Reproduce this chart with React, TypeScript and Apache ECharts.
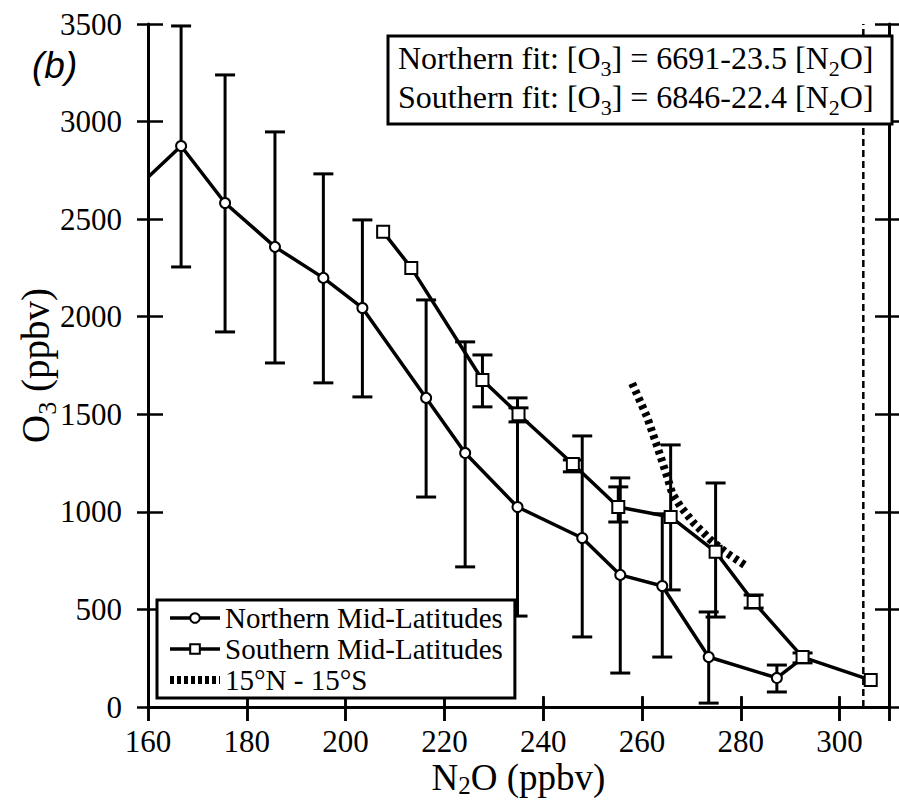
import React, { useEffect, useRef } from 'react';
import * as echarts from 'echarts';

// ---- axis ranges ----
const xMin = 160;
const xMax = 310;
const xStep = 20;
const yMin = 0;
const yMax = 3500;
const yStep = 500;

// ---- Northern Mid-Latitudes (circles) ----
const northN2O = [160, 166.7, 175.6, 185.7, 195.5, 203.4, 216.3, 224.2, 234.8, 247.9, 255.6, 264.1, 273.5, 287.3, 292.5];
const northO3 = [2715, 2875, 2583, 2358, 2199, 2045, 1584, 1302, 1025, 866, 677, 620, 256, 149, 251];
const northErrLow = [null, 2255, 1922, 1763, 1661, 1589, 1076, 718, 466, 359, 174, 256, 20, 77, null];
const northErrHigh = [null, 3490, 3239, 2947, 2732, 2496, 2086, 1871, 1584, 1389, 1174, 990, 487, 215, null];

// ---- Southern Mid-Latitudes (squares) ----
const southN2O = [207.6, 213.3, 227.7, 235.0, 246.0, 255.2, 265.8, 274.9, 282.6, 292.5, 306.3];
const southO3 = [2435, 2250, 1676, 1500, 1245, 1025, 974, 795, 538, 256, 138];
const southErrLow = [null, null, 1538, 1461, 1205, 948, 600, 461, 507, 226, null];
const southErrHigh = [null, null, 1804, 1533, 1266, 1128, 1343, 1148, 574, 277, null];

// ---- 15N - 15S (thick dotted) ----
const tropN2O = [258.0, 261.0, 263.1, 265.1, 266.1, 267.8, 270.5, 273.9, 277.2, 281.3];
const tropO3 = [1659, 1488, 1334, 1180, 1095, 1027, 942, 856, 788, 719];

// ---- vertical dashed reference ----
const refLineN2O = 304.8;

const seriesNames = ['Northern Mid-Latitudes', 'Southern Mid-Latitudes', '15°N - 15°S'];
const fitLines = [
  ['Northern fit: [O', '3', '] = 6691-23.5 [N', '2', 'O]'],
  ['Southern fit: [O', '3', '] = 6846-22.4 [N', '2', 'O]'],
];

const SERIF = 'Liberation Serif';

function errData(xs: number[], lo: (number | null)[], hi: (number | null)[]) {
  const out: number[][] = [];
  xs.forEach((x, i) => {
    if (lo[i] != null && hi[i] != null) out.push([x, lo[i] as number, hi[i] as number]);
  });
  return out;
}

function richLine(parts: string[]) {
  return parts.map((p, i) => (i % 2 === 1 ? `{s|${p}}` : `{m|${p}}`)).join('');
}

export default function App() {
  const ref = useRef<HTMLDivElement>(null);

  useEffect(() => {
    if (!ref.current) return;
    const chart = echarts.init(ref.current, null, { renderer: 'svg' });

    const black = '#000';
    const axisBase = (extra: any) => ({
      type: 'value',
      splitLine: { show: false },
      ...extra,
    });
    const xRange = { min: xMin, max: xMax, interval: xStep };
    const yRange = { min: yMin, max: yMax, interval: yStep };
    const tickStyle = { color: black, width: 2.5 };

    const errRender = (params: any, api: any) => {
      const x = api.value(0);
      const p1 = api.coord([x, api.value(1)]);
      const p2 = api.coord([x, api.value(2)]);
      const hw = 10;
      const style = { stroke: black, lineWidth: 3 };
      return {
        type: 'group',
        children: [
          { type: 'line', shape: { x1: p1[0], y1: p1[1], x2: p2[0], y2: p2[1] }, style },
          { type: 'line', shape: { x1: p1[0] - hw, y1: p1[1], x2: p1[0] + hw, y2: p1[1] }, style },
          { type: 'line', shape: { x1: p2[0] - hw, y1: p2[1], x2: p2[0] + hw, y2: p2[1] }, style },
        ],
      };
    };

    const nameRich = {
      m: { fontSize: 37, lineHeight: 37, fontFamily: SERIF, color: black },
      s: { fontSize: 25, lineHeight: 16, padding: [16, 0, 0, 0], fontFamily: SERIF, color: black },
    };
    const fitRich = {
      m: { fontSize: 32, lineHeight: 36, fontFamily: SERIF, fill: black },
      s: { fontSize: 22, lineHeight: 18, padding: [20, 0, 0, 0], fontFamily: SERIF, fill: black },
    };

    const option: any = {
      animation: false,
      backgroundColor: '#fff',
      textStyle: { fontFamily: SERIF, color: black },
      grid: {
        left: 148,
        right: 10,
        top: 24,
        bottom: 93,
        containLabel: false,
        outerBoundsMode: 'none',
      },
      xAxis: [
        axisBase({
          ...xRange,
          position: 'bottom',
          axisLine: { lineStyle: { color: black, width: 3 } },
          axisTick: { inside: false, length: 14, lineStyle: tickStyle },
          axisLabel: {
            margin: 21,
            fontSize: 31,
            lineHeight: 27,
            fontFamily: SERIF,
            color: black,
            formatter: (v: number) => (v > 300 ? '' : String(v)),
          },
          name: '{m|N}{s|2}{m|O (ppbv)}',
          nameLocation: 'middle',
          nameGap: 52,
          nameMoveOverlap: false,
          nameTextStyle: { fontFamily: SERIF, fontSize: 37, color: black, rich: nameRich },
        }),
        axisBase({
          ...xRange,
          position: 'bottom',
          axisLine: { show: false },
          axisTick: { inside: true, length: 10, lineStyle: tickStyle },
          axisLabel: { show: false },
        }),
        axisBase({
          ...xRange,
          position: 'top',
          axisLine: { lineStyle: { color: black, width: 3 } },
          axisTick: { inside: false, length: 11, lineStyle: tickStyle },
          axisLabel: { show: false },
        }),
        axisBase({
          ...xRange,
          position: 'top',
          axisLine: { show: false },
          axisTick: { inside: true, length: 14, lineStyle: tickStyle },
          axisLabel: { show: false },
        }),
      ],
      yAxis: [
        axisBase({
          ...yRange,
          position: 'left',
          axisLine: { lineStyle: { color: black, width: 3 } },
          axisTick: { inside: false, length: 11, lineStyle: tickStyle },
          axisLabel: {
            margin: 26,
            fontSize: 31,
            fontFamily: SERIF,
            color: black,
            formatter: (v: number) => String(v),
          },
          name: '{m|O}{s|3}{m| (ppbv)}',
          nameLocation: 'middle',
          nameGap: 92,
          nameMoveOverlap: false,
          nameTextStyle: { fontFamily: SERIF, fontSize: 38, color: black, rich: {
            m: { fontSize: 39, lineHeight: 42, fontFamily: SERIF, color: black },
            s: { fontSize: 26, lineHeight: 20, padding: [24, 0, 0, 0], fontFamily: SERIF, color: black },
          } },
        }),
        axisBase({
          ...yRange,
          position: 'left',
          axisLine: { show: false },
          axisTick: { inside: true, length: 15, lineStyle: tickStyle },
          axisLabel: { show: false },
        }),
        axisBase({
          ...yRange,
          position: 'right',
          axisLine: { lineStyle: { color: black, width: 3 } },
          axisTick: { inside: false, length: 11, lineStyle: tickStyle },
          axisLabel: { show: false },
        }),
        axisBase({
          ...yRange,
          position: 'right',
          axisLine: { show: false },
          axisTick: { inside: true, length: 14, lineStyle: tickStyle },
          axisLabel: { show: false },
        }),
      ],
      legend: {
        orient: 'vertical',
        left: 157,
        top: 600,
        padding: [3, 12, 3, 9],
        itemGap: 1,
        itemWidth: 50,
        itemHeight: 12,
        backgroundColor: '#fff',
        borderColor: black,
        borderWidth: 3,
        borderRadius: 0,
        textStyle: { fontSize: 29, lineHeight: 30, fontFamily: SERIF, color: black },
        data: [
          { name: seriesNames[0], lineStyle: { width: 3.5, color: black } },
          { name: seriesNames[1], lineStyle: { width: 3.5, color: black } },
          {
            name: seriesNames[2],
            lineStyle: { width: 8, color: black, type: [4, 3] },
            itemStyle: { opacity: 0 },
          },
        ],
        z: 20,
      },
      series: [
        {
          type: 'line',
          name: 'ref',
          data: [[refLineN2O, yMin], [refLineN2O, yMax]],
          symbol: 'none',
          lineStyle: { color: black, width: 2.5, type: [7, 4] },
          silent: true,
          z: 1,
        },
        {
          type: 'custom',
          name: 'northErr',
          renderItem: errRender,
          data: errData(northN2O, northErrLow, northErrHigh),
          encode: { x: 0, y: [1, 2] },
          z: 2,
        },
        {
          type: 'custom',
          name: 'southErr',
          renderItem: errRender,
          data: errData(southN2O, southErrLow, southErrHigh),
          encode: { x: 0, y: [1, 2] },
          z: 2,
        },
        {
          type: 'line',
          name: seriesNames[2],
          data: tropN2O.map((x, i) => [x, tropO3[i]]),
          symbol: 'none',
          itemStyle: { color: black },
          lineStyle: { color: black, width: 8, type: [4, 4] },
          z: 3,
        },
        {
          type: 'line',
          name: seriesNames[0],
          data: northN2O.map((x, i) =>
            i === 0 ? { value: [x, northO3[i]], symbol: 'none' } : [x, northO3[i]]
          ),
          symbol: 'circle',
          symbolSize: 10,
          showAllSymbol: true,
          lineStyle: { color: black, width: 3.5 },
          itemStyle: { color: '#fff', borderColor: black, borderWidth: 2 },
          z: 4,
        },
        {
          type: 'line',
          name: seriesNames[1],
          data: southN2O.map((x, i) => [x, southO3[i]]),
          symbol: 'rect',
          symbolSize: 12,
          showAllSymbol: true,
          lineStyle: { color: black, width: 3.5 },
          itemStyle: { color: '#fff', borderColor: black, borderWidth: 2 },
          z: 4,
        },
      ],
      graphic: {
        elements: [
          {
            type: 'text',
            z: 50,
            left: 32,
            top: 47,
            style: {
              text: '(b)',
              fontSize: 37,
              fontStyle: 'italic',
              fontFamily: 'Liberation Sans',
              fill: black,
            },
          },
          {
            type: 'rect',
            z: 50,
            shape: { x: 388, y: 36, width: 504, height: 88 },
            style: { fill: '#fff', stroke: black, lineWidth: 3 },
          },
          {
            type: 'text',
            z: 51,
            x: 398,
            y: 58,
            style: {
              text: richLine(fitLines[0]),
              rich: fitRich,
              align: 'left',
              verticalAlign: 'middle',
            },
          },
          {
            type: 'text',
            z: 51,
            x: 398,
            y: 97,
            style: {
              text: richLine(fitLines[1]),
              rich: fitRich,
              align: 'left',
              verticalAlign: 'middle',
            },
          },
        ],
      },
    };

    chart.setOption(option);
    return () => chart.dispose();
  }, []);

  return (
    <div
      ref={ref}
      style={{ position: 'fixed', left: 0, top: 0, width: 899, height: 800, background: '#fff' }}
    />
  );
}
